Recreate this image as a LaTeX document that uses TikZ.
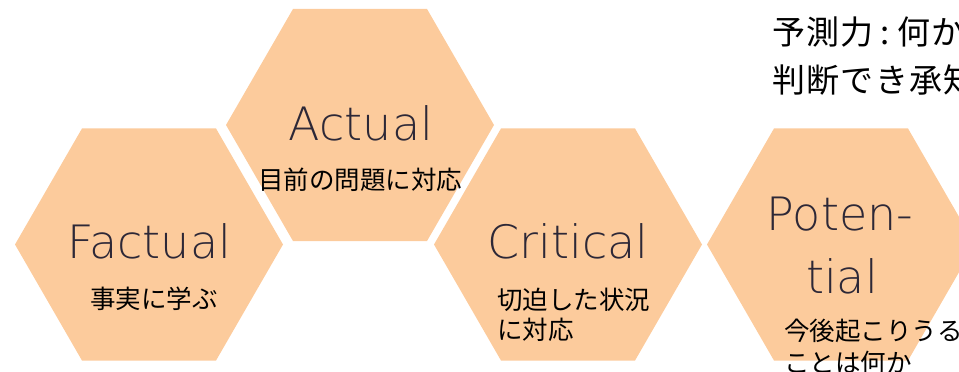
\documentclass[tikz,border=0pt]{standalone}
\usepackage{fontspec}
\setmainfont{Noto Sans CJK JP}
\newfontfamily\handfont{DejaVu Sans ExtraLight}
\definecolor{hexfill}{RGB}{252,203,156}
\definecolor{handcol}{RGB}{45,40,55}
\begin{document}
\begin{tikzpicture}[x=1pt,y=-1pt,
  hex/.style={fill=hexfill},
  eng/.style={font=\handfont\fontsize{46}{50}\selectfont, text=handcol, inner sep=0pt},
  jp/.style={font=\fontsize{25.5}{30}\selectfont, text=black, inner sep=0pt},
  title/.style={font=\addfontfeature{LetterSpace=4}\fontsize{33}{48}\selectfont, text=black, inner sep=0pt, align=left}]
\useasboundingbox (0,0) rectangle (959,372);
\clip (0,0) rectangle (959,372);
% hexagons
\foreach \cx/\cy/\nm in {149/244.5/F, 360/125/A, 568/244.5/C, 841/244.5/P}{
  \fill[hex, shift={(\cx,\cy)}] (0:134) -- (60:134) -- (120:134) -- (180:134) -- (240:134) -- (300:134) -- cycle;
  \coordinate (\nm) at (\cx,\cy);
}
% Factual
\node[eng, anchor=base] (ft) at (149,258) {Factual};
\node[jp] (fj) at (154,299) {事実に学ぶ};
% Actual
\node[eng, anchor=base] (at) at (361,140) {Actual};
\node[jp] (aj) at (360,180) {目前の問題に対応};
% Critical
\node[eng, anchor=base] (ct) at (568,258) {Critical};
\node[jp, anchor=west, align=left, font=\fontsize{25.5}{30}\selectfont] (cj) at (497,315) {切迫した状況\\に対応};
% Potential
\node[eng, anchor=base] (pt1) at (840,230) {Poten-};
\node[eng, anchor=base] (pt2) at (842,293) {tial};
\node[jp, anchor=west, align=left, font=\fontsize{25.5}{32}\selectfont] (pj) at (784,347) {今後起こりうる\\ことは何か};
% title
\node[title, anchor=west] (tt) at (772,56) {予測力\hspace{7pt}:\hspace{7pt}何か\\判断でき承知};
\end{tikzpicture}
\end{document}
